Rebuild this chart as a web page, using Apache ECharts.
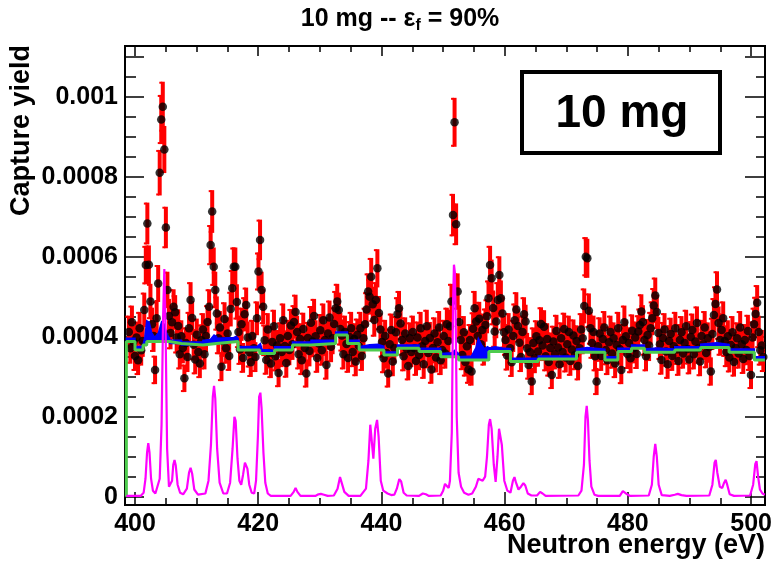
<!DOCTYPE html>
<html><head><meta charset="utf-8">
<script src="https://cdn.jsdelivr.net/npm/echarts@6/dist/echarts.min.js"></script>
<style>html,body{margin:0;padding:0;background:#fff}#c{width:775px;height:563px}</style>
</head><body><div id="c"></div>
<script>
// ---------------- DATA ----------------
// Measured capture yield (units of 1e-6), bins of 0.25 eV starting at 399.0 eV
const ENERGY_START = 399.0;
const BIN_WIDTH = 0.25;
const yieldE6 = [
  412, 371, 436, 388,
  352, 398, 341, 421, 366, 389, 467, 579, 683, 580, 488, 431, 402, 317, 446, 533, 810, 943, 975, 868,
  673, 517, 452, 409, 436, 475, 461, 398, 427, 356, 401, 372, 296, 384, 349, 421, 492, 447, 380, 343,
  405, 362, 333, 391, 418, 356, 402, 437, 475, 629, 713, 575, 517, 458, 396, 423, 325, 389, 444, 371,
  408, 352, 469, 521, 575, 575, 487, 412, 368, 431, 347, 456, 479, 398, 361, 336, 402, 371, 349, 446,
  563, 642, 517, 475, 391, 342, 418, 359, 333, 387, 426, 351, 378, 309, 396, 362, 441, 377, 334, 402,
  367, 428, 381, 437, 462, 412, 356, 394, 341, 419, 372, 308, 397, 364, 435, 388, 452, 401, 347, 383,
  416, 366, 441, 392, 329, 408, 448, 375, 396, 432, 471, 488, 467, 419, 403, 356, 412, 382, 347, 399,
  421, 362, 394, 338, 405, 377, 421, 352, 396, 431, 468, 513, 500, 550, 481, 442, 492, 571, 459, 418,
  387, 346, 402, 359, 308, 381, 417, 338, 372, 411, 456, 471, 433, 392, 351, 408, 369, 327, 396, 362,
  412, 371, 339, 398, 354, 421, 376, 331, 389, 426, 359, 397, 318, 372, 408, 348, 386, 423, 341, 367,
  402, 358, 431, 389, 426, 488, 704, 936, 681, 513, 437, 392, 354, 411, 337, 376, 318, 392, 313, 420,
  471, 438, 402, 445, 381, 417, 366, 429, 451, 496, 579, 546, 472, 413, 438, 492, 554, 496, 458, 411,
  392, 353, 418, 371, 336, 402, 441, 468, 427, 385, 349, 412, 456, 438, 371, 329, 361, 288, 384, 346,
  401, 363, 391, 432, 378, 425, 351, 394, 337, 372, 304, 388, 356, 414, 373, 331, 396, 362, 419, 348,
  381, 412, 339, 368, 403, 354, 389, 327, 371, 418, 396, 477, 600, 596, 465, 421, 384, 412, 351, 288,
  376, 408, 352, 394, 423, 367, 341, 386, 412, 358, 396, 333, 379, 421, 369, 317, 392, 436, 401, 357,
  384, 346, 415, 372, 398, 357, 413, 429, 463, 437, 392, 351, 404, 378, 421, 446, 478, 503, 462, 409,
  381, 342, 397, 418, 363, 331, 389, 407, 352, 376, 421, 368, 339, 392, 411, 358, 384, 426, 369, 343,
  399, 417, 356, 388, 434, 371, 338, 402, 381, 423, 359, 396, 374, 313, 407, 454, 482, 518, 434, 392,
  417, 446, 389, 362, 401, 348, 379, 411, 337, 372, 396, 358, 423, 381, 344, 392, 367, 414, 352, 304,
  398, 431, 457, 485, 412, 366, 378, 349
];
// statistical error bars: sigma = ERR_K * sqrt(yield) (yield in 1e-6 units)
const ERR_K = 2.0;

// Background (green histogram): bin edges (eV) and levels (1e-6)
const greenEdges = [398.6, 400.0, 401.3, 401.9, 405.6, 407.5, 411.0, 413.2, 416.7, 420.2,
  422.6, 425.5, 428.5, 432.5, 434.4, 436.3, 440.3, 442.5, 446.0, 449.5,
  452.4, 457.3, 460.8, 465.3, 471.5, 476.1, 478.2, 480.4, 482.5, 487.4,
  491.6, 496.2, 500.3, 502.0];
const greenLevels = [388, 367, 379, 388, 383, 379, 383, 388, 367, 358,
  367, 379, 383, 404, 383, 367, 354, 371, 363, 350,
  342, 363, 338, 344, 361, 342, 363, 371, 361, 367,
  373, 361, 342];

// Fitted yield (blue), [energy eV, yield 1e-6]
const blueCurve = [[398.6,396],[400.0,396],[400.0,375],[401.0,376],[401.3,380],[401.6,400],[401.9,440],[402.3,436],[402.7,410],[403.2,398],
  [403.8,410],[404.3,437],[404.7,432],[405.2,405],[405.6,396],[405.6,391],[407.5,391],[407.5,387],[411.0,387],[411.0,391],
  [412.2,393],[412.8,404],[413.2,400],[413.2,396],[416.0,398],[416.4,401],[416.7,396],[416.7,375],[419.8,376],[420.3,383],
  [420.6,368],[422.6,366],[422.6,375],[425.5,375],[425.5,387],[428.5,387],[428.5,391],[432.5,392],[432.5,412],[434.4,412],
  [434.4,391],[436.3,391],[436.3,375],[438.0,380],[439.3,381],[440.3,376],[440.3,362],[442.5,362],[442.5,379],[446.0,379],
  [446.0,371],[449.5,371],[449.5,358],[451.3,360],[451.8,366],[452.4,358],[452.4,350],[454.5,352],[455.2,372],[455.6,396],
  [456.1,380],[456.6,370],[457.1,375],[457.3,372],[458.3,375],[459.5,372],[460.8,370],[460.8,346],[465.3,346],[465.3,352],
  [471.5,352],[471.5,369],[473.2,373],[476.1,369],[476.1,350],[478.2,350],[478.2,371],[480.4,371],[480.4,379],[482.5,379],
  [482.5,369],[484.5,372],[487.4,369],[487.4,375],[491.6,375],[491.6,381],[494.2,385],[496.2,381],[496.2,369],[500.3,369],
  [500.3,350],[502.0,350]];

// Magenta curve, [energy eV, yield 1e-6]
const magentaCurve = [[398.6,2],[400.9,2],[401.4,10],[401.7,45],[401.95,110],[402.15,134],[402.35,110],[402.6,45],[402.9,15],[403.3,8],
  [403.6,10],[404.0,45],[404.3,180],[404.55,450],[404.75,569],[404.95,420],[405.2,120],[405.5,25],[405.8,22],
  [406.0,40],[406.2,80],[406.4,92],[406.6,78],[406.9,30],[407.3,10],
  [407.8,6],[408.4,20],[408.75,60],[409.0,72],[409.25,58],[409.6,18],[410.2,5],
  [411.4,8],[411.9,40],[412.3,130],[412.6,250],[412.8,277],[413.0,245],[413.3,120],[413.7,35],[414.3,8],
  [414.9,8],[415.4,35],[415.8,120],[416.1,200],[416.3,190],[416.6,95],[416.9,40],[417.2,30],
  [417.5,55],[417.8,85],[418.0,87],[418.2,70],[418.5,30],[418.9,10],
  [419.3,8],[419.6,40],[419.9,150],[420.1,250],[420.3,260],[420.5,220],[420.8,110],[421.1,35],[421.5,8],[422.0,2],
  [425.2,2],[425.7,12],[426.0,22],[426.3,12],[426.8,2],
  [429.2,2],[429.7,6],[430.1,7],[430.6,5],[431.2,2],
  [432.2,3],[432.8,20],[433.2,49],[433.5,45],[433.9,12],[434.6,2],
  [436.5,2],[437.4,20],[437.8,90],[438.1,180],[438.25,184],[438.6,95],[438.9,170],[439.2,192],[439.45,150],[439.8,40],[440.2,15],[440.5,17],[440.9,8],[441.5,4],
  [442.0,5],[442.4,20],[442.8,44],[443.1,38],[443.5,10],[444.0,3],
  [446.0,2],[446.6,8],[447.1,6],[447.6,2],
  [449.5,3],[449.9,15],[450.2,32],[450.5,28],[450.8,22],
  [451.0,40],[451.3,160],[451.5,480],[451.65,580],[451.8,560],[451.95,420],[452.1,200],[452.4,60],[452.8,25],[453.3,10],[454.0,5],
  [454.6,8],[455.2,25],[455.6,45],[455.9,49],[456.3,40],[456.7,50],
  [457.0,100],[457.3,180],[457.5,194],[457.75,170],[458.1,80],[458.4,37],[458.7,100],[458.95,170],[459.15,175],[459.4,130],[459.8,40],[460.3,15],[460.8,10],
  [461.2,40],[461.45,49],[461.7,35],[462.1,18],[462.5,25],[462.9,34],[463.2,28],[463.6,8],[464.2,3],
  [465.1,3],[465.6,12],[466.0,8],[466.5,2],
  [471.8,3],[472.3,15],[472.7,80],[472.95,200],[473.15,227],[473.35,190],[473.6,90],[473.9,25],[474.4,5],[475.0,2],
  [478.5,2],[479.0,14],[479.3,17],[479.7,6],[480.2,2],
  [483.2,3],[483.7,30],[484.0,100],[484.25,132],[484.5,100],[484.8,30],[485.3,4],
  [486.6,2],[487.4,5],[487.9,7],[488.5,4],[489.3,2],
  [493.0,3],[493.5,30],[493.85,85],[494.05,92],[494.3,60],[494.7,25],[495.1,22],
  [495.4,35],[495.65,42],[495.9,30],[496.3,6],[497.0,2],
  [499.6,3],[500.1,30],[500.45,82],[500.65,89],[500.9,50],[501.2,18],[501.6,8],[502.0,5]];

const xTickValues = [400, 420, 440, 460, 480, 500];
const yTickValues = [0, 0.0002, 0.0004, 0.0006, 0.0008, 0.001];

// ---------------- BUILD ----------------
const U = 1e-6;
const points = yieldE6.map((v, i) => [ENERGY_START + i * BIN_WIDTH, v * U]);
const errBars = yieldE6.map((v, i) => {
  const e = ERR_K * Math.sqrt(v);
  return [ENERGY_START + i * BIN_WIDTH, (v - e) * U, (v + e) * U];
});
const greenStep = [[greenEdges[0], 0]];
const greenPoly = [];
greenLevels.forEach((l, i) => {
  greenStep.push([greenEdges[i], l * U]);
  greenPoly.push([greenEdges[i], l * U], [greenEdges[i + 1], l * U]);
});
greenStep.push([greenEdges[greenEdges.length - 1], greenLevels[greenLevels.length - 1] * U]);
const bluePts = blueCurve.map(p => [p[0], p[1] * U]);
const magPts = magentaCurve.map(p => [p[0], p[1] * U]);

const FONT = 'Liberation Sans, Arial, Helvetica, sans-serif';
const chart = echarts.init(document.getElementById('c'), null, {renderer: 'canvas'});
const XMIN = 398.38, XMAX = 502.02, YMIN = -0.00002075, YMAX = 0.00112675;

chart.setOption({
  animation: false,
  backgroundColor: '#fff',
  grid: [
    {left: 125, right: 10, top: 46, bottom: 58, show: true, borderColor: '#000', borderWidth: 2, backgroundColor: 'transparent'},
    {left: 135, right: 22.5, top: 46, bottom: 58},
    {left: 125, right: 10, top: 56.7, bottom: 66.3}
  ],
  xAxis: [
    {gridIndex: 0, type: 'value', min: XMIN, max: XMAX, show: false},
    {gridIndex: 1, type: 'value', min: 400, max: 500, interval: 20, position: 'bottom',
      axisLine: {show: false}, splitLine: {show: false},
      axisTick: {show: true, inside: true, length: 13, lineStyle: {color: '#000', width: 1.5}},
      minorTick: {show: true, splitNumber: 4, length: 7, lineStyle: {color: '#000', width: 1.5}},
      axisLabel: {show: true, margin: 7, color: '#000', fontSize: 25, fontWeight: 'bold', fontFamily: FONT,
        formatter: v => xTickValues.includes(v) ? String(v) : ''}},
    {gridIndex: 1, type: 'value', min: 400, max: 500, interval: 20, position: 'top',
      axisLine: {show: false}, splitLine: {show: false}, axisLabel: {show: false},
      axisTick: {show: true, inside: true, length: 10, lineStyle: {color: '#000', width: 1.5}},
      minorTick: {show: true, splitNumber: 4, length: 6, lineStyle: {color: '#000', width: 1.5}}},
    {gridIndex: 2, type: 'value', min: 0, max: 1, show: false}
  ],
  yAxis: [
    {gridIndex: 0, type: 'value', min: YMIN, max: YMAX, show: false},
    {gridIndex: 1, type: 'value', min: 0, max: 1, show: false},
    {gridIndex: 2, type: 'value', min: 0, max: 0.0011, interval: 0.0002, position: 'left',
      axisLine: {show: false}, splitLine: {show: false},
      axisTick: {show: true, inside: true, length: 19, lineStyle: {color: '#000', width: 1.5}},
      minorTick: {show: true, splitNumber: 4, length: 11, lineStyle: {color: '#000', width: 1.5}},
      axisLabel: {show: true, margin: 7, color: '#000', fontSize: 25, fontWeight: 'bold', fontFamily: FONT,
        formatter: v => {
          const r = +v.toFixed(6);
          return yTickValues.some(t => Math.abs(t - r) < 1e-9) ? String(r) : '';
        }}},
    {gridIndex: 2, type: 'value', min: 0, max: 0.0011, interval: 0.0002, position: 'right',
      axisLine: {show: false}, splitLine: {show: false}, axisLabel: {show: false},
      axisTick: {show: true, inside: true, length: 20, lineStyle: {color: '#000', width: 1.5}},
      minorTick: {show: true, splitNumber: 4, length: 9, lineStyle: {color: '#000', width: 1.5}}}
  ],
  series: [
    {
      type: 'custom', name: 'errors', xAxisIndex: 0, yAxisIndex: 0, z: 2, clip: true,
      data: errBars, encode: {x: 0, y: [1, 2]},
      renderItem: (params, api) => {
        const lo = api.coord([api.value(0), api.value(1)]);
        const hi = api.coord([api.value(0), api.value(2)]);
        return {type: 'group', children: [
          {type: 'rect', shape: {x: lo[0] - 2, y: hi[1], width: 4, height: lo[1] - hi[1]}, style: {fill: '#ff0000'}},
          {type: 'rect', shape: {x: lo[0] - 3.5, y: hi[1], width: 3, height: 2}, style: {fill: '#ff0000'}},
          {type: 'rect', shape: {x: lo[0] - 3.5, y: lo[1] - 2, width: 3, height: 2}, style: {fill: '#ff0000'}}
        ]};
      }
    },
    {
      type: 'scatter', name: 'data', xAxisIndex: 0, yAxisIndex: 0, z: 3,
      data: points, symbol: 'circle', symbolSize: 8.5, itemStyle: {color: '#000'}, clip: true
    },
    {
      type: 'custom', name: 'fit', xAxisIndex: 0, yAxisIndex: 0, z: 4, clip: true,
      data: [[bluePts[0][0], bluePts[0][1]]],
      renderItem: (params, api) => {
        const pts = bluePts.map(p => api.coord(p)).concat(greenPoly.slice().reverse().map(p => api.coord(p)));
        return {type: 'polygon', shape: {points: pts}, style: {fill: '#0000ff', stroke: '#0000ff', lineWidth: 1.5}};
      }
    },
    {
      type: 'line', name: 'background', xAxisIndex: 0, yAxisIndex: 0, z: 5,
      data: greenStep, step: 'end', showSymbol: false, symbol: 'none',
      lineStyle: {color: '#4dcc4d', width: 3}, clip: true
    },
    {
      type: 'line', name: 'magenta', xAxisIndex: 0, yAxisIndex: 0, z: 6,
      data: magPts, showSymbol: false, symbol: 'none',
      lineStyle: {color: '#ff00ff', width: 2.2}, clip: true
    }
  ],
  graphic: [
    {type: 'text', x: 400, y: 19, z: 10, style: {
      text: '{a|10 mg -- ε}{s|f}{a| = 90%}', align: 'center', verticalAlign: 'middle',
      rich: {
        a: {fontSize: 25, fontWeight: 'bold', fontFamily: FONT, fill: '#000', lineHeight: 28},
        s: {fontSize: 16, fontWeight: 'bold', fontFamily: FONT, fill: '#000', padding: [14, 0, 0, 0]}
      }}},
    {type: 'text', x: 22, y: 45, rotation: Math.PI / 2, z: 10, style: {
      text: 'Capture yield', align: 'right', verticalAlign: 'middle',
      fontSize: 27, fontWeight: 'bold', fontFamily: FONT, fill: '#000'}},
    {type: 'text', x: 765, y: 546, z: 10, style: {
      text: 'Neutron energy (eV)', align: 'right', verticalAlign: 'middle',
      fontSize: 27, fontWeight: 'bold', fontFamily: FONT, fill: '#000'}},
    {type: 'rect', z: 10, shape: {x: 522, y: 72, width: 198, height: 81},
      style: {fill: '#fff', stroke: '#000', lineWidth: 4}},
    {type: 'text', x: 622, y: 114, z: 11, style: {
      text: '10 mg', align: 'center', verticalAlign: 'middle',
      fontSize: 46, fontWeight: 'bold', fontFamily: FONT, fill: '#000'}}
  ]
});
</script>
</body></html>
